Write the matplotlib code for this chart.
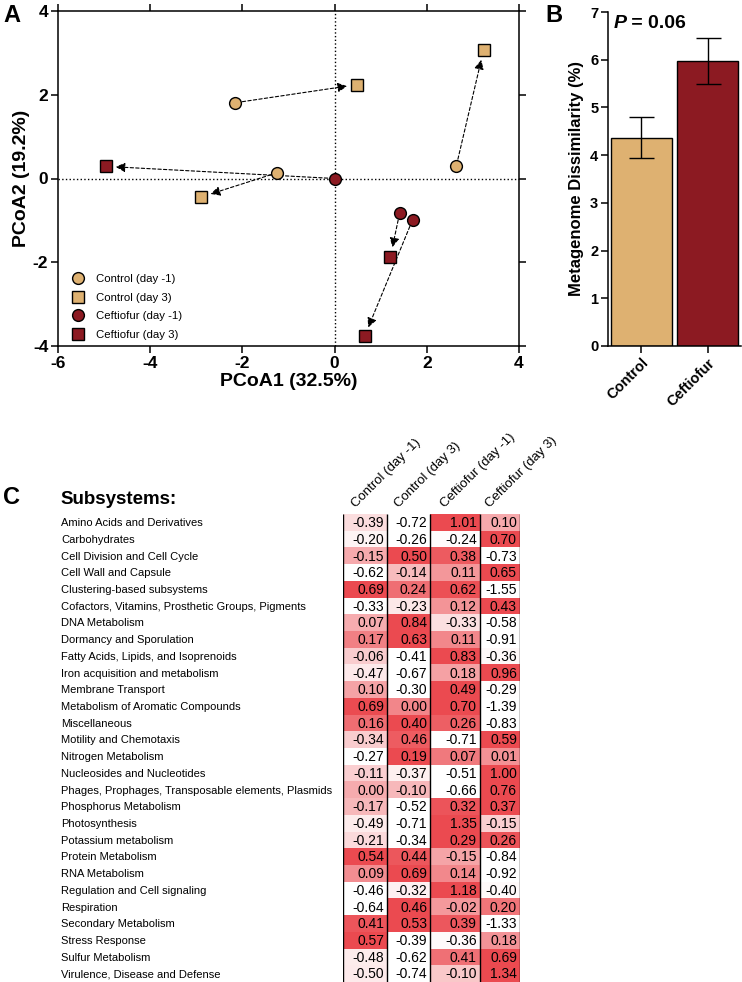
import numpy as np
import matplotlib
matplotlib.use('Agg')
import matplotlib.pyplot as plt
from matplotlib.colors import LinearSegmentedColormap
from matplotlib.lines import Line2D
import matplotlib.transforms as mtransforms

plt.rcParams['font.family'] = ['Liberation Sans', 'DejaVu Sans']
plt.rcParams['axes.unicode_minus'] = False

# ---------------- Panel A data (PCoA) ----------------
ctrl_pre_x = [-2.15, -1.24, 2.64]
ctrl_pre_y = [1.81, 0.14, 0.30]
ctrl_post_x = [0.48, -2.89, 3.23]
ctrl_post_y = [2.24, -0.44, 3.06]
ceft_pre_x = [0.00, 1.41, 1.69]
ceft_pre_y = [0.00, -0.83, -0.99]
ceft_post_x = [-4.96, 1.21, 0.65]
ceft_post_y = [0.29, -1.87, -3.77]
legend_labels = ['Control (day -1)', 'Control (day 3)', 'Ceftiofur (day -1)', 'Ceftiofur (day 3)']

# ---------------- Panel B data ----------------
groups = ['Control', 'Ceftiofur']
dissim = [4.36, 5.98]
dissim_err = [0.43, 0.48]

# ---------------- Panel C data ----------------
subsystems = [
    'Amino Acids and Derivatives', 'Carbohydrates', 'Cell Division and Cell Cycle',
    'Cell Wall and Capsule', 'Clustering-based subsystems',
    'Cofactors, Vitamins, Prosthetic Groups, Pigments', 'DNA Metabolism',
    'Dormancy and Sporulation', 'Fatty Acids, Lipids, and Isoprenoids',
    'Iron acquisition and metabolism', 'Membrane Transport',
    'Metabolism of Aromatic Compounds', 'Miscellaneous', 'Motility and Chemotaxis',
    'Nitrogen Metabolism', 'Nucleosides and Nucleotides',
    'Phages, Prophages, Transposable elements, Plasmids', 'Phosphorus Metabolism',
    'Photosynthesis', 'Potassium metabolism', 'Protein Metabolism', 'RNA Metabolism',
    'Regulation and Cell signaling', 'Respiration', 'Secondary Metabolism',
    'Stress Response', 'Sulfur Metabolism', 'Virulence, Disease and Defense']
column_labels = ['Control (day -1)', 'Control (day 3)', 'Ceftiofur (day -1)', 'Ceftiofur (day 3)']
ctrl_dm1 = [-0.39, -0.20, -0.15, -0.62, 0.69, -0.33, 0.07, 0.17, -0.06, -0.47, 0.10, 0.69, 0.16, -0.34,
            -0.27, -0.11, 0.00, -0.17, -0.49, -0.21, 0.54, 0.09, -0.46, -0.64, 0.41, 0.57, -0.48, -0.50]
ctrl_d3 = [-0.72, -0.26, 0.50, -0.14, 0.24, -0.23, 0.84, 0.63, -0.41, -0.67, -0.30, 0.00, 0.40, 0.46,
           0.19, -0.37, -0.10, -0.52, -0.71, -0.34, 0.44, 0.69, -0.32, 0.46, 0.53, -0.39, -0.62, -0.74]
ceft_dm1 = [1.01, -0.24, 0.38, 0.11, 0.62, 0.12, -0.33, 0.11, 0.83, 0.18, 0.49, 0.70, 0.26, -0.71,
            0.07, -0.51, -0.66, 0.32, 1.35, 0.29, -0.15, 0.14, 1.18, -0.02, 0.39, -0.36, 0.41, -0.10]
ceft_d3 = [0.10, 0.70, -0.73, 0.65, -1.55, 0.43, -0.58, -0.91, -0.36, 0.96, -0.29, -1.39, -0.83, 0.59,
           0.01, 1.00, 0.76, 0.37, -0.15, 0.26, -0.84, -0.92, -0.40, 0.20, -1.33, 0.18, 0.69, 1.34]

TAN = '#DEB171'
RED = '#8C1A22'

fig = plt.figure(figsize=(7.42, 9.82), dpi=100)

# ================= Panel A =================
axA = fig.add_axes([58/742, 1-346/982, 461/742, 335/982])
axA.axhline(0, color='black', ls=':', lw=1.0, zorder=1)
axA.axvline(0, color='black', ls=':', lw=1.0, zorder=1)
for (px, py, qx, qy) in [(ctrl_pre_x, ctrl_pre_y, ctrl_post_x, ctrl_post_y),
                         (ceft_pre_x, ceft_pre_y, ceft_post_x, ceft_post_y)]:
    for i in range(len(px)):
        axA.annotate('', xy=(qx[i], qy[i]), xytext=(px[i], py[i]),
                     arrowprops=dict(arrowstyle='-|>', color='black', lw=0.8, ls=(0, (3, 2)),
                                     shrinkA=5, shrinkB=7, mutation_scale=14), zorder=2)
ms = 8.5
axA.plot(ctrl_pre_x, ctrl_pre_y, 'o', ms=ms, mfc=TAN, mec='black', mew=1, ls='none', zorder=3)
axA.plot(ctrl_post_x, ctrl_post_y, 's', ms=ms, mfc=TAN, mec='black', mew=1, ls='none', zorder=3)
axA.plot(ceft_pre_x, ceft_pre_y, 'o', ms=ms, mfc=RED, mec='black', mew=1, ls='none', zorder=3)
axA.plot(ceft_post_x, ceft_post_y, 's', ms=ms, mfc=RED, mec='black', mew=1, ls='none', zorder=3)
axA.set_xlim(-6, 4)
axA.set_ylim(-4, 4)
axA.set_xticks([-6, -4, -2, 0, 2, 4])
axA.set_yticks([-4, -2, 0, 2, 4])
axA.tick_params(direction='out', length=5, width=1.1, labelsize=12.5, top=True, right=True,
                labeltop=False, labelright=False, pad=2)
for lab in axA.get_xticklabels() + axA.get_yticklabels():
    lab.set_fontweight('bold')
for sp in axA.spines.values():
    sp.set_linewidth(1.1)
axA.set_xlabel('PCoA1 (32.5%)', fontsize=14, fontweight='bold', labelpad=2)
axA.set_ylabel('PCoA2 (19.2%)', fontsize=14, fontweight='bold', labelpad=2)
handles = [Line2D([], [], marker=m, ms=ms, mfc=c, mec='black', mew=1, ls='none')
           for m, c in [('o', TAN), ('s', TAN), ('o', RED), ('s', RED)]]
axA.legend(handles, legend_labels, loc='lower left', frameon=False, fontsize=8.2,
           handletextpad=1.0, labelspacing=0.75, borderaxespad=0.15, handlelength=1.2,
           bbox_to_anchor=(0.015, 0.0))

# ================= Panel B =================
axB = fig.add_axes([608/742, 1-346/982, 133/742, 334/982])
xb = np.arange(len(groups))
axB.bar(xb, dissim, width=0.92, color=[TAN, RED], edgecolor='black', lw=1.0,
        yerr=dissim_err, capsize=9, error_kw=dict(lw=1.0, capthick=1.0, ecolor='black'))
axB.set_xlim(-0.5, 1.5)
axB.set_ylim(0, 7)
axB.set_yticks(range(0, 8))
axB.set_xticks(xb)
axB.set_xticklabels(groups, rotation=45, ha='right', rotation_mode='anchor',
                    fontsize=14, fontweight='bold')
axB.tick_params(direction='out', length=5, width=1.1, labelsize=10.5, pad=2)
for lab in axB.get_yticklabels():
    lab.set_fontweight('bold')
axB.spines['top'].set_visible(False)
axB.spines['right'].set_visible(False)
for sp in ('left', 'bottom'):
    axB.spines[sp].set_linewidth(1.1)
axB.set_ylabel('Metagenome Dissimilarity (%)', fontsize=12, fontweight='bold', labelpad=4)
tP = axB.text(0.04, 0.99, 'P', transform=axB.transAxes, fontsize=14, fontweight='bold',
              fontstyle='italic', ha='left', va='top')
axB.annotate(' = 0.06', xy=(1, 0), xycoords=tP, fontsize=14, fontweight='bold',
             ha='left', va='bottom')

# ================= Panel C =================
axC = fig.add_axes([343/742, 0.0, 177/742, 468/982])
vals = np.column_stack([ctrl_dm1, ctrl_d3, ceft_dm1, ceft_d3])
rmin = vals.min(axis=1, keepdims=True)
rmax = vals.max(axis=1, keepdims=True)
norm_vals = (vals - rmin) / (rmax - rmin)
cmap = LinearSegmentedColormap.from_list('wr', ['#FFFFFF', '#EB4A50'])
x_edges = np.array([0.0, 1.0, 1.97, 3.09, 4.0])
y_edges = np.arange(len(subsystems) + 1)
axC.pcolormesh(x_edges, y_edges, norm_vals, cmap=cmap, vmin=0, vmax=1)
axC.set_xlim(0, 4)
axC.set_ylim(len(subsystems), 0)
axC.vlines(x_edges, 0, len(subsystems), colors='black', lw=1.0)
axC.axis('off')
for i in range(len(subsystems)):
    for j in range(4):
        axC.text(x_edges[j + 1] - 0.07, i + 0.55, f'{vals[i, j]:.2f}', ha='right', va='center',
                 fontsize=10)
trans = mtransforms.blended_transform_factory(fig.transFigure, axC.transData)
for i, name in enumerate(subsystems):
    axC.text(61/742, i + 0.55, name, transform=trans, ha='left', va='center', fontsize=8)
for j, lab in enumerate(column_labels):
    cx = (x_edges[j] + x_edges[j + 1]) / 2
    axC.text(cx - 0.22, -0.35, lab, rotation=45, ha='left', va='baseline',
             rotation_mode='anchor', fontsize=9.5, clip_on=False)
fig.text(60/742, 1-500/982, 'Subsystems:', fontsize=13.5, fontweight='bold', ha='left', va='center')

# Panel letters
fig.text(3/742, 1-15/982, 'A', fontsize=17, fontweight='bold', ha='left', va='center')
fig.text(545/742, 1-15/982, 'B', fontsize=17, fontweight='bold', ha='left', va='center')
fig.text(3/742, 1-497/982, 'C', fontsize=17, fontweight='bold', ha='left', va='center')

fig.savefig('out.png', dpi=100)
